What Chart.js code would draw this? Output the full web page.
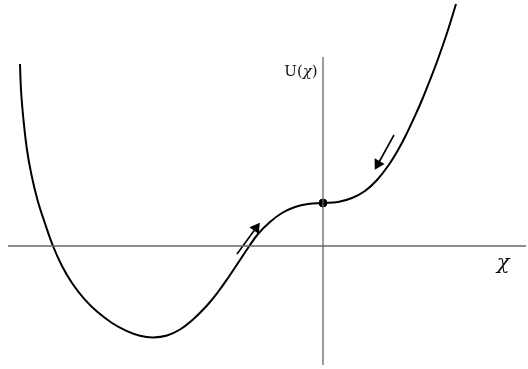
<!DOCTYPE html>
<html>
<head>
<meta charset="utf-8">
<script src="https://cdn.jsdelivr.net/npm/chart.js@4.4.0/dist/chart.umd.min.js"></script>
<style>
  body { margin: 0; background: #fff; }
  #wrap { width: 528px; height: 369px; }
</style>
</head>
<body>
<div id="wrap"><canvas id="potChart"></canvas></div>
<script>
// curve U(x) (origin where the axes cross)
var curveX = [-3.03, -3.02, -2.995, -2.96, -2.915, -2.855, -2.785, -2.70, -2.61, -2.51, -2.39, -2.26, -2.11, -1.96, -1.83, -1.70,
              -1.56, -1.43, -1.30, -1.16, -1.05, -0.95, -0.85, -0.75, -0.65, -0.53, -0.41, -0.28, -0.15, 0.00,
              0.15, 0.29, 0.42, 0.54, 0.65, 0.75, 0.83, 0.91, 0.99, 1.07, 1.15, 1.24, 1.33];
var curveY = [1.82, 1.56, 1.26, 0.96, 0.71, 0.46, 0.24, 0.00, -0.20, -0.37, -0.526, -0.656, -0.77, -0.852, -0.898, -0.914,
              -0.895, -0.835, -0.735, -0.595, -0.46, -0.32, -0.17, -0.02, 0.12, 0.24, 0.33, 0.39, 0.42, 0.43,
              0.44, 0.48, 0.55, 0.66, 0.80, 0.96, 1.11, 1.28, 1.46, 1.66, 1.87, 2.13, 2.42];

// axes
var xAxisX = [-3.15, 2.03];
var yAxisY = [-1.19, 1.89];

// the fixed point on the U axis
var dotX = [0];
var dotY = [0.43];

// arrows: tail, head
var arrowUpX = [-0.86, -0.67];
var arrowUpY = [-0.08, 0.18];
var arrowDownX = [0.71, 0.55];
var arrowDownY = [1.11, 0.82];

// labels: pieces of text, italic where the symbol is
var labels = [
  { x: -0.22, y: 1.74, size: 15, parts: [['U(', false], ['\u03c7', true], [')', false]] },
  { x: 1.80, y: -0.18, size: 21, parts: [['\u03c7', true]] }
];

function pts(xs, ys) {
  var out = [];
  for (var i = 0; i < xs.length; i++) {
    out.push({ x: xs[i], y: ys[i] });
  }
  return out;
}

var textPlugin = {
  id: 'textLabels',
  afterDatasetsDraw: function (chart) {
    var ctx = chart.ctx;
    var sx = chart.scales.x, sy = chart.scales.y;
    ctx.save();
    ctx.fillStyle = '#111';
    ctx.textAlign = 'left';
    ctx.textBaseline = 'middle';
    labels.forEach(function (lb) {
      var fonts = lb.parts.map(function (p) {
        return (p[1] ? 'italic ' : '') + lb.size + 'px "DejaVu Serif"';
      });
      var total = 0;
      lb.parts.forEach(function (p, i) {
        ctx.font = fonts[i];
        total += ctx.measureText(p[0]).width;
      });
      var px = sx.getPixelForValue(lb.x) - total / 2;
      var py = sy.getPixelForValue(lb.y);
      lb.parts.forEach(function (p, i) {
        ctx.font = fonts[i];
        ctx.fillText(p[0], px, py);
        px += ctx.measureText(p[0]).width;
      });
    });
    ctx.restore();
  }
};

var ctx = document.getElementById('potChart').getContext('2d');
new Chart(ctx, {
  type: 'scatter',
  data: {
    datasets: [
      {
        data: pts(xAxisX, [0, 0]),
        showLine: true, borderColor: '#666', borderWidth: 1.3, pointRadius: 0
      },
      {
        data: pts([0, 0], yAxisY),
        showLine: true, borderColor: '#666', borderWidth: 1.3, pointRadius: 0
      },
      {
        data: pts(curveX, curveY),
        showLine: true, borderColor: '#000', borderWidth: 2, pointRadius: 0,
        tension: 0.4
      },
      {
        data: pts(dotX, dotY),
        backgroundColor: '#000', borderColor: '#000', pointRadius: 4
      },
      {
        data: pts(arrowUpX, arrowUpY),
        showLine: true, borderColor: '#000', borderWidth: 1.6,
        backgroundColor: '#000', pointStyle: 'triangle', pointRadius: [0, 5], rotation: 36
      },
      {
        data: pts(arrowDownX, arrowDownY),
        showLine: true, borderColor: '#000', borderWidth: 1.6,
        backgroundColor: '#000', pointStyle: 'triangle', pointRadius: [0, 5], rotation: 209
      }
    ]
  },
  options: {
    responsive: true,
    maintainAspectRatio: false,
    animation: false,
    layout: { padding: 0, autoPadding: false },
    plugins: { legend: { display: false }, tooltip: { enabled: false } },
    scales: {
      x: { type: 'linear', display: false, min: -3.23, max: 2.05 },
      y: { type: 'linear', display: false, min: -1.23, max: 2.46 }
    }
  },
  plugins: [textPlugin]
});
</script>
</body>
</html>
